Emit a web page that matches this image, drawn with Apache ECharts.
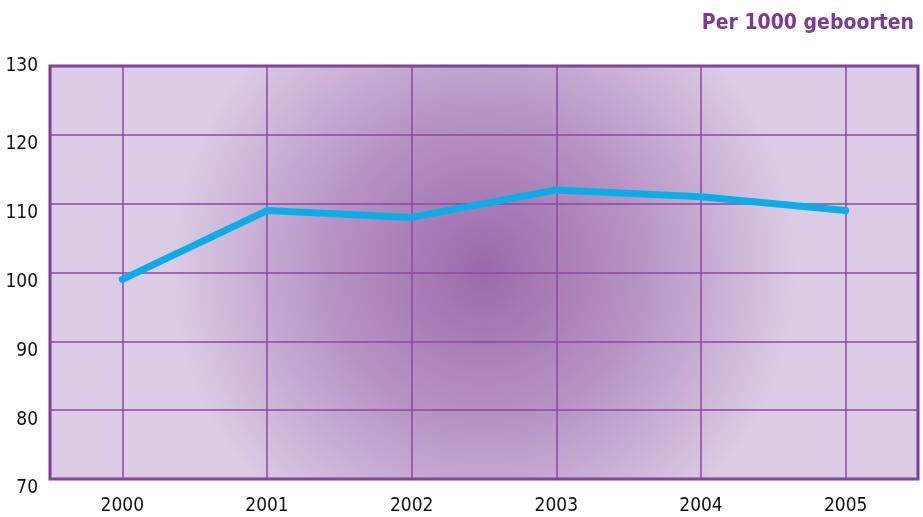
<!DOCTYPE html>
<html>
<head>
<meta charset="utf-8">
<script src="https://cdn.jsdelivr.net/npm/echarts@6/dist/echarts.min.js"></script>
<style>
  html, body { margin: 0; padding: 0; background: #fff; }
  #chart { width: 923px; height: 517px; }
</style>
</head>
<body>
<div id="chart"></div>
<script>
// jaren en waarden per 1000 geboorten
const years = ['2000', '2001', '2002', '2003', '2004', '2005'];
const values = [99, 109, 108, 112, 111, 109];
const yMin = 70;
const yMax = 130;
const yStep = 10;
const unitLabel = 'Per 1000 geboorten';

const FONT = '"DejaVu Sans Condensed", "Liberation Sans Narrow", sans-serif';
const PURPLE = '#7b3a93';

const chart = echarts.init(document.getElementById('chart'));

chart.setOption({
  animation: false,
  title: {
    text: unitLabel,
    right: 4,
    top: 8,
    textStyle: { color: PURPLE, fontFamily: FONT, fontWeight: 'bold', fontSize: 21 }
  },
  grid: {
    left: 50,
    right: 5,
    top: 66,
    bottom: 38,
    show: true,
    borderColor: PURPLE,
    borderWidth: 3,
    backgroundColor: new echarts.graphic.RadialGradient(0.5, 0.49, 0.75, [
      { offset: 0, color: '#9c69ab' },
      { offset: 0.5, color: '#b793c5' },
      { offset: 1, color: '#dbcbe4' }
    ])
  },
  xAxis: {
    type: 'category',
    data: years,
    boundaryGap: true,
    axisLine: { show: false },
    axisTick: { show: false },
    axisLabel: { color: '#111', fontFamily: FONT, fontSize: 19, margin: 18 },
    splitLine: { show: true, alignWithLabel: true, lineStyle: { color: '#8a4a9f', width: 1.5 } }
  },
  yAxis: {
    type: 'value',
    min: yMin,
    max: yMax,
    interval: yStep,
    axisLine: { show: false },
    axisTick: { show: false },
    axisLabel: {
      color: '#111', fontFamily: FONT, fontSize: 19, margin: 12,
      verticalAlign: 'middle',
      // het bovenste label staat op de lijn, de andere iets eronder
      formatter: v => (v === yMax ? '{t|' + v + '}' : '{n|' + v + '}'),
      rich: {
        t: { fontFamily: FONT, fontSize: 19, color: '#111' },
        n: { fontFamily: FONT, fontSize: 19, color: '#111', padding: [19, 0, 0, 0] }
      }
    },
    splitLine: { show: true, lineStyle: { color: '#8a4a9f', width: 1.5 } }
  },
  series: [{
    type: 'line',
    data: values,
    showSymbol: false,
    symbol: 'none',
    lineStyle: { color: '#0aaee6', width: 7, cap: 'round', join: 'round' },
    z: 5
  }]
});
</script>
</body>
</html>
